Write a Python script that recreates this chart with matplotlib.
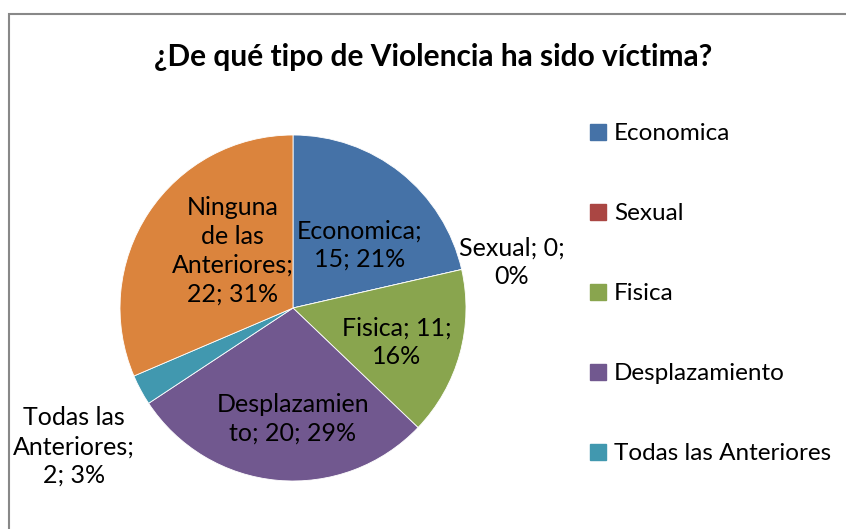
import matplotlib.pyplot as plt
import numpy as np
from matplotlib.patches import Rectangle

categories = ["Economica", "Sexual", "Fisica", "Desplazamiento",
              "Todas las Anteriores", "Ninguna de las Anteriores"]
values = [15, 0, 11, 20, 2, 22]
label_texts = [
    "Economica;\n15; 21%",
    "Sexual; 0;\n0%",
    "Fisica; 11;\n16%",
    "Desplazamien\nto; 20; 29%",
    "Todas las\nAnteriores;\n2; 3%",
    "Ninguna\nde las\nAnteriores;\n22; 31%",
]
legend_items = categories[:5]

colors = ["#4572A7", "#AA4643", "#89A54E", "#71588F", "#4198AF", "#DB843D"]
# radial distance / angle nudge of each data label
label_r = [0.53, 1.29, 0.63, 0.64, 1.50, 0.48]
label_da = [-8, -1, -3, 5, 4, -10]

FONT = "Lato"
W, H = 846, 529

fig = plt.figure(figsize=(W / 100, H / 100), dpi=100)

# chart border (runs off the right / bottom edge like the screenshot)
fig.patches.append(Rectangle((9 / W, -0.05), 1.1, 1 - 14 / H + 0.05,
                             transform=fig.transFigure, fill=False,
                             edgecolor="#888888", linewidth=1.5))

fig.text(433 / W, 1 - 57 / H, "¿De qué tipo de Violencia ha sido víctima?",
         ha="center", va="center", fontsize=21.5, fontweight="bold",
         family=FONT)

cx, cy, r = 293, 308, 173
ax = fig.add_axes([(cx - r) / W, (H - cy - r) / H, 2 * r / W, 2 * r / H])
wedges, _ = ax.pie(values, colors=colors, startangle=90, counterclock=False,
                   radius=1, wedgeprops=dict(linewidth=0.6, edgecolor="white"))
ax.set_xlim(-1, 1)
ax.set_ylim(-1, 1)
ax.set_aspect("equal")
ax.axis("off")

for w, txt, rr, da in zip(wedges, label_texts, label_r, label_da):
    mid = np.deg2rad((w.theta1 + w.theta2) / 2 + da)
    ax.text(rr * np.cos(mid), rr * np.sin(mid), txt, ha="center",
            va="center", fontsize=18, family=FONT, linespacing=1.3,
            clip_on=False)

handles = [Rectangle((0, 0), 1, 1, color=c) for c in colors[:5]]
fig.legend(handles, legend_items, loc="upper left",
           bbox_to_anchor=(580 / W, 1 - 113.5 / H), frameon=False,
           prop=dict(family=FONT, size=17.5), handlelength=0.65,
           handleheight=0.65, handletextpad=0.35, labelspacing=2.43,
           borderaxespad=0)

fig.savefig("out.png", dpi=100)
